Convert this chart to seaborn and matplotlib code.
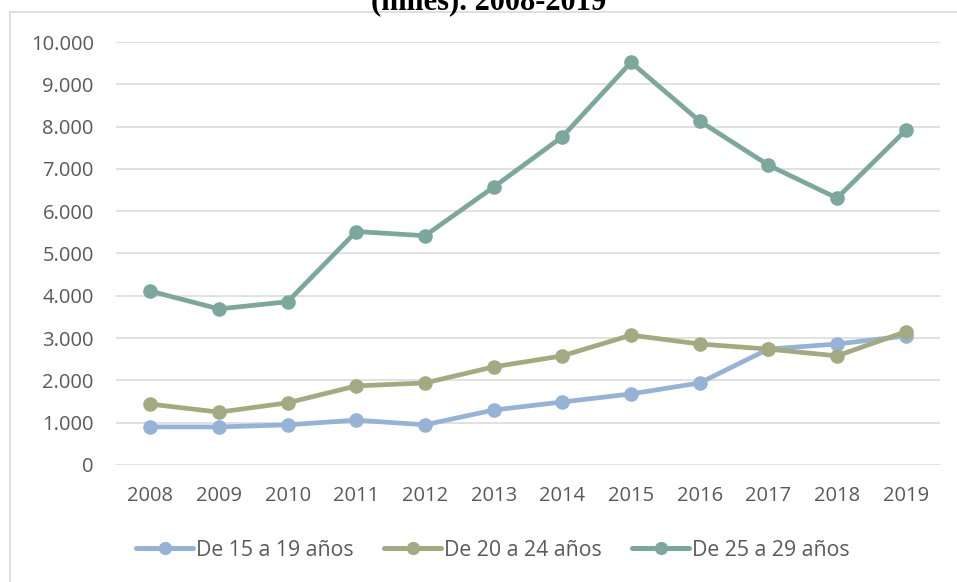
import matplotlib
matplotlib.use('Agg')
import matplotlib.pyplot as plt
import seaborn as sns
import pandas as pd
from matplotlib.patches import Rectangle
from matplotlib.ticker import FuncFormatter

# Datos (miles)
anios = [2008, 2009, 2010, 2011, 2012, 2013, 2014, 2015, 2016, 2017, 2018, 2019]
de_15_19 = [900, 900, 950, 1060, 950, 1300, 1490, 1680, 1940, 2740, 2860, 3050]
de_20_24 = [1440, 1250, 1470, 1870, 1940, 2320, 2580, 3070, 2860, 2740, 2580, 3150]
de_25_29 = [4110, 3690, 3860, 5520, 5420, 6570, 7760, 9520, 8130, 7090, 6310, 7910]
grupos = ['De 15 a 19 años', 'De 20 a 24 años', 'De 25 a 29 años']
colores = ['#95b3d7', '#a4aa7f', '#7ba79c']

df = pd.DataFrame({
    'anio': anios * 3,
    'valor': de_15_19 + de_20_24 + de_25_29,
    'grupo': [g for g in grupos for _ in anios],
})

sns.set_theme(style='white')
plt.rcParams['font.family'] = ['Open Sans', 'DejaVu Sans']
texto = '#595959'

fig = plt.figure(figsize=(9.57, 5.82), dpi=100)
ax = fig.add_axes([116 / 957, 117 / 582, 824 / 957, 423 / 582])

sns.lineplot(data=df, x='anio', y='valor', hue='grupo', hue_order=grupos,
             palette=colores, marker='o', markersize=10.5, markeredgewidth=0,
             linewidth=3.4, ax=ax, clip_on=False, zorder=3)

ax.set_xlim(2007.5, 2019.5)
ax.set_ylim(0, 10000)
ax.set_xticks(anios)
ax.set_yticks(range(0, 10001, 1000))
ax.yaxis.set_major_formatter(FuncFormatter(lambda v, p: f'{int(v):,}'.replace(',', '.')))
ax.grid(True, axis='y', color='#d9d9d9', linewidth=1.1)
ax.grid(False, axis='x')
for s in ax.spines.values():
    s.set_visible(False)
ax.tick_params(axis='both', length=0, labelsize=14.5, colors=texto)
ax.tick_params(axis='y', pad=16)
ax.tick_params(axis='x', pad=15)
ax.set_xlabel('')
ax.set_ylabel('')

handles, labels = ax.get_legend_handles_labels()
leg = ax.legend(handles, labels, loc='center', bbox_to_anchor=(493 / 957, 32 / 582),
                bbox_transform=fig.transFigure, ncol=3, frameon=False, fontsize=15.3,
                handlelength=2.7, handletextpad=0.15, columnspacing=1.4,
                labelcolor=texto)
for h in leg.legend_handles:
    h.set_linewidth(3.6)
    h.set_markersize(9.5)

# marco del gráfico
fig.add_artist(Rectangle((10 / 957, -0.1), 1.2, 0.1 + 570 / 582, transform=fig.transFigure,
                         fill=False, edgecolor='#d9d9d9', linewidth=1.2))

# título (cortado en la parte superior, como en el original)
fig.text(489 / 957, 573 / 582, '(miles). 2008-2019', ha='center', va='baseline',
         fontsize=22, fontweight='bold', family='Liberation Serif', color='black')

fig.savefig('out.png', dpi=100)
